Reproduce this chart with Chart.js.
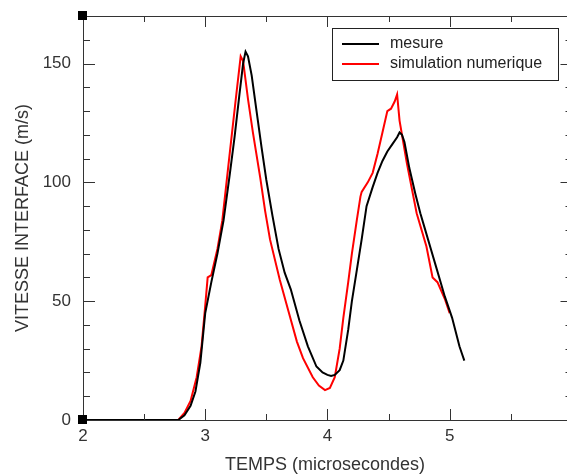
<!DOCTYPE html>
<html>
<head>
<meta charset="utf-8">
<script src="https://cdn.jsdelivr.net/npm/chart.js@4"></script>
<style>
  html, body { margin: 0; padding: 0; background: #fff; }
</style>
</head>
<body>
<canvas id="myChart" width="567" height="476"></canvas>
<script>
// mesure (black)
var tMesure = [2.0, 2.78, 2.83, 2.88, 2.92, 2.96, 3.0, 3.05, 3.1, 3.15, 3.2, 3.24, 3.28, 3.31, 3.33, 3.35, 3.38, 3.42,
  3.46, 3.5, 3.55, 3.6, 3.65, 3.7, 3.77, 3.84, 3.91, 3.96, 4.0, 4.03, 4.06, 4.1, 4.13, 4.17, 4.2, 4.24, 4.28, 4.32,
  4.37, 4.41, 4.45, 4.49, 4.53, 4.57, 4.59, 4.61, 4.63, 4.67, 4.72, 4.76, 4.8, 4.84, 4.88, 4.92, 4.96, 5.0, 5.02,
  5.06, 5.08, 5.1, 5.12];
var vMesure = [0, 0, 2, 6, 12, 24, 45, 58, 70, 84, 103, 119, 137, 150, 155, 153, 145, 130,
  115, 101, 86, 72, 62, 55, 42, 31, 22.5, 20, 19, 18.5, 19, 21, 25, 38, 50, 63, 76, 90,
  98, 104, 109, 113, 116, 119, 121, 120, 117, 106, 95, 87, 80, 73, 66, 59, 52, 46, 43,
  35, 31, 28, 25];

// simulation numerique (red)
var tSimu = [2.0, 2.78, 2.83, 2.88, 2.93, 2.97, 3.0, 3.02, 3.05, 3.1, 3.14, 3.2, 3.25, 3.29, 3.31, 3.35, 3.39,
  3.45, 3.49, 3.53, 3.61, 3.68, 3.75, 3.8, 3.88, 3.93, 3.98, 4.02, 4.06, 4.1, 4.13, 4.17, 4.2, 4.24, 4.27, 4.28,
  4.33, 4.37, 4.41, 4.45, 4.49, 4.52, 4.55, 4.57, 4.59, 4.65, 4.73, 4.81, 4.86, 4.9, 4.96, 5.0];
var vSimu = [0, 0, 3, 8, 18, 31, 48, 60, 61, 72, 84, 112, 135, 153, 151, 135, 121,
  102, 88, 76, 59, 46, 33, 26, 18, 14.5, 12.6, 13.5, 18, 30, 43, 58, 70, 84, 94, 96,
  100, 104, 112, 121, 130, 131, 134, 137, 126, 108, 87, 73, 60, 58, 51, 45];

var xTicks = [2, 3, 4, 5];
var yTicks = [0, 50, 100, 150];

function toPoints(t, v) {
  return t.map(function (x, i) { return { x: x, y: v[i] }; });
}

var txt = '#333';
var font = { family: 'Liberation Sans', size: 17 };

// frame, inward ticks, corner marks and legend box
const framePlugin = {
  id: 'frame',
  afterDraw(chart) {
    const { ctx, chartArea: a, scales: { x, y } } = chart;
    const rx = Math.round(x.getPixelForValue(6)) + 0.5; // right frame sits just past the canvas edge
    ctx.save();
    ctx.strokeStyle = '#333';
    ctx.lineWidth = 1;
    ctx.beginPath();
    ctx.moveTo(a.left, a.top + 0.5); ctx.lineTo(rx, a.top + 0.5);
    ctx.moveTo(rx, a.top); ctx.lineTo(rx, a.bottom);
    for (let i = 0; i <= 8; i++) {
      const px = Math.round(x.getPixelForValue(2 + i * 0.5)) + 0.5;
      const len = i % 2 === 0 ? 11 : 6;
      ctx.moveTo(px, a.bottom); ctx.lineTo(px, a.bottom - len);
      ctx.moveTo(px, a.top); ctx.lineTo(px, a.top + len);
    }
    for (let v = 0; v <= y.max; v += 10) {
      const py = Math.round(y.getPixelForValue(v)) + 0.5;
      const len = v % 50 === 0 ? 12 : 7;
      ctx.moveTo(a.left, py); ctx.lineTo(a.left + len, py);
      ctx.moveTo(rx, py); ctx.lineTo(rx - len, py);
    }
    ctx.stroke();

    ctx.fillStyle = '#000';
    ctx.fillRect(a.left - 5, a.top - 5, 9, 9);
    ctx.fillRect(a.left - 5, a.bottom - 5, 9, 9);
    ctx.fillRect(rx - 5, a.top - 5, 9, 9);
    ctx.fillRect(rx - 5, a.bottom - 5, 9, 9);

    // legend
    ctx.fillStyle = '#fff';
    ctx.fillRect(332, 28, 226, 52);
    ctx.strokeStyle = '#222';
    ctx.lineWidth = 1;
    ctx.strokeRect(332.5, 28.5, 226, 52);
    ctx.font = '16px "Liberation Sans"';
    ctx.textBaseline = 'middle';
    chart.data.datasets.forEach(function (ds, i) {
      const ly = 44 + i * 20;
      ctx.strokeStyle = ds.borderColor;
      ctx.lineWidth = 2;
      ctx.beginPath();
      ctx.moveTo(342, ly); ctx.lineTo(379, ly);
      ctx.stroke();
      ctx.fillStyle = '#222';
      ctx.fillText(ds.label, 390, ly);
    });
    ctx.restore();
  }
};

const myChart = new Chart("myChart", {
  type: "line",
  data: {
    datasets: [{
      label: 'mesure',
      data: toPoints(tMesure, vMesure),
      borderColor: "#000000",
      borderWidth: 2,
      fill: false
    }, {
      label: 'simulation numerique',
      data: toPoints(tSimu, vSimu),
      borderColor: "#ff0000",
      borderWidth: 2,
      fill: false
    }]
  },
  options: {
    responsive: false,
    animation: false,
    layout: { padding: { top: 16, right: 0, left: 0, bottom: 0 } },
    elements: { point: { radius: 0 }, line: { tension: 0 } },
    plugins: { legend: { display: false }, tooltip: { enabled: false } },
    scales: {
      x: {
        type: 'linear',
        min: 2,
        max: 5.96,
        grid: { display: false, drawTicks: false },
        border: { display: true, color: '#333', width: 1 },
        ticks: { font: font, color: txt, padding: 6, maxRotation: 0, autoSkip: false },
        afterBuildTicks: function (s) { s.ticks = xTicks.map(function (v) { return { value: v }; }); },
        afterFit: function (s) { s.height = 56; s.paddingLeft = 0; s.paddingRight = 0; },
        title: { display: true, text: 'TEMPS (microsecondes)', color: txt,
          font: { family: 'Liberation Sans', size: 18 }, padding: { top: 0, bottom: 0 } }
      },
      y: {
        type: 'linear',
        min: 0,
        max: 170,
        grid: { display: false, drawTicks: false },
        border: { display: true, color: '#333', width: 1 },
        ticks: { font: font, color: txt, padding: 12, autoSkip: false },
        afterBuildTicks: function (s) { s.ticks = yTicks.map(function (v) { return { value: v }; }); },
        afterFit: function (s) { s.width = 83; s.paddingTop = 0; s.paddingBottom = 0; },
        title: { display: true, text: 'VITESSE INTERFACE (m/s)', color: txt,
          font: { family: 'Liberation Sans', size: 18 }, padding: { top: 12, bottom: 0 } }
      }
    }
  },
  plugins: [framePlugin]
});
</script>
</body>
</html>
